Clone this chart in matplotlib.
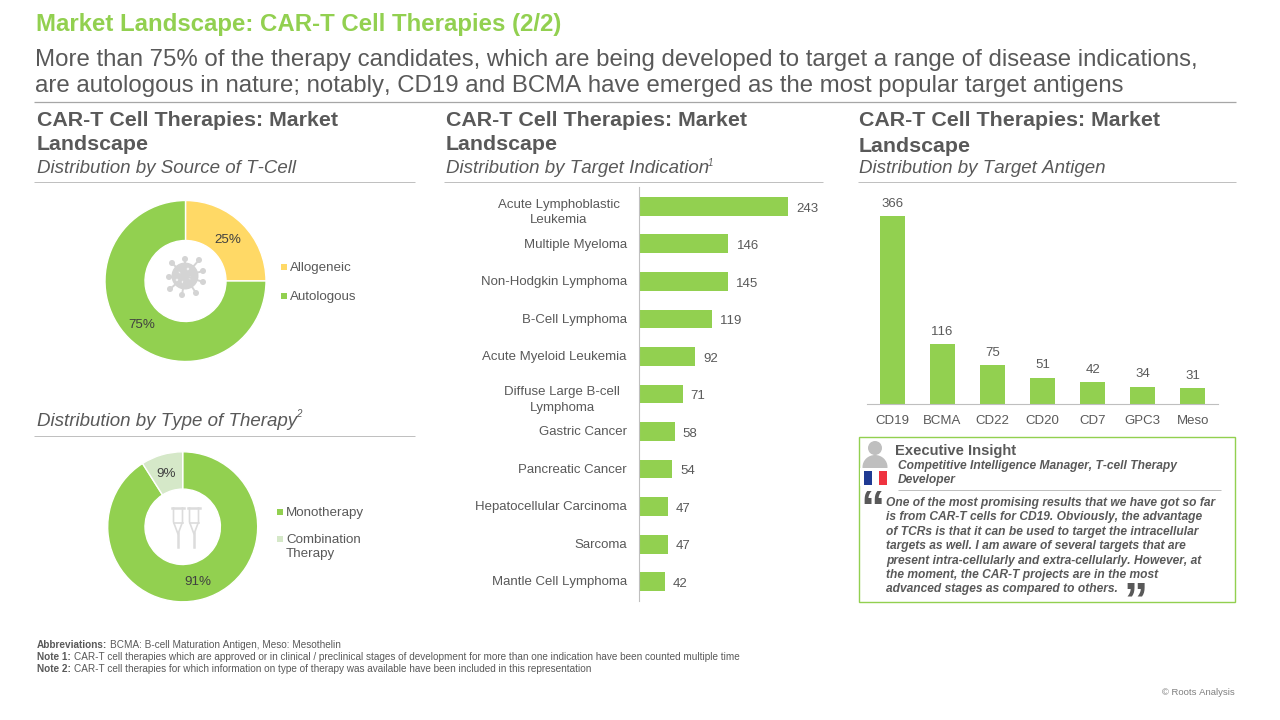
import matplotlib
matplotlib.use('Agg')
import matplotlib.pyplot as plt
from matplotlib.patches import Circle, Rectangle, Ellipse

plt.rcParams['font.family'] = ['Liberation Sans', 'DejaVu Sans']
plt.rcParams['text.kerning_factor'] = 6

GREEN = '#92D050'
YELLOW = '#FFD966'
PALE = '#D5E8C8'
TXT = '#595959'
RULE = '#BFBFBF'

# data
source_labels = ['Allogeneic', 'Autologous']
source_vals = [25, 75]
therapy_labels = ['Monotherapy', 'Combination\nTherapy']
therapy_vals = [91, 9]
indications = ['Acute Lymphoblastic\nLeukemia', 'Multiple Myeloma', 'Non-Hodgkin Lymphoma',
               'B-Cell Lymphoma', 'Acute Myeloid Leukemia', 'Diffuse Large B-cell\nLymphoma',
               'Gastric Cancer', 'Pancreatic Cancer', 'Hepatocellular Carcinoma',
               'Sarcoma', 'Mantle Cell Lymphoma']
indication_vals = [243, 146, 145, 119, 92, 71, 58, 54, 47, 47, 42]
antigens = ['CD19', 'BCMA', 'CD22', 'CD20', 'CD7', 'GPC3', 'Meso']
antigen_vals = [366, 116, 75, 51, 42, 34, 31]

W, H = 1280, 720
fig = plt.figure(figsize=(12.8, 7.2), dpi=100)

# full page axes in pixel coords, y pointing down, above the charts
page = fig.add_axes([0, 0, 1, 1], zorder=10)
page.set_xlim(0, W)
page.set_ylim(H, 0)
page.axis('off')


def box(x0, y0, x1, y1):
    return [x0 / W, 1 - y1 / H, (x1 - x0) / W, (y1 - y0) / H]


def t(x, y, s, size=10, color=TXT, **kw):
    kw.setdefault('va', 'center')
    return page.text(x, y, s, fontsize=size, color=color, **kw)


def rule(x0, x1, y, color=RULE, lw=0.7):
    page.plot([x0, x1], [y, y], color=color, lw=lw, solid_capstyle='butt')


# headline
t(36, 25, 'Market Landscape: CAR-T Cell Therapies (2/2)', 17.25, GREEN, fontweight='bold')
t(35, 60, 'More than 75% of the therapy candidates, which are being developed to target a range of disease indications,', 17.3, TXT)
t(35, 86, 'are autologous in nature; notably, CD19 and BCMA have emerged as the most popular target antigens', 17.3, TXT)
rule(34, 1236, 101.5, '#A6A6A6', 0.9)

# column headers
for x, x0, x1, dy, sub in [(37, 34, 415, 0, 'Distribution by Source of T-Cell'),
                           (446, 444, 823, 0, 'Distribution by Target Indication'),
                           (859, 858, 1236, 1, 'Distribution by Target Antigen')]:
    t(x, 120 + dy, 'CAR-T Cell Therapies: Market', 15.4, TXT, fontweight='bold')
    t(x, 145 + dy, 'Landscape', 15.4, TXT, fontweight='bold')
    t(x, 168.5, sub, 13.5, TXT, style='italic')
    rule(x0, x1, 181.5)
t(708, 163, '1', 7, TXT, style='italic')

t(37, 421, 'Distribution by Type of Therapy', 13.5, TXT, style='italic')
t(296, 414, '2', 7, TXT, style='italic')
rule(34, 415, 435.5)


# donuts
def donut(cx, cy, r, inner, vals, colors, label_pos):
    ax = fig.add_axes(box(cx - r - 2, cy - r - 2, cx + r + 2, cy + r + 2))
    ax.pie(vals, colors=colors, startangle=90, counterclock=False, radius=r / (r + 2),
           wedgeprops=dict(width=(r - inner) / (r + 2), edgecolor='white', linewidth=1))
    ax.set_xlim(-1, 1)
    ax.set_ylim(-1, 1)
    for (x, y), v in zip(label_pos, vals):
        t(x, y, '%d%%' % v, 9.6, '#404040', ha='center')


donut(185.5, 281, 80.5, 40.5, source_vals, [YELLOW, GREEN], [(228, 240), (142, 325)])
donut(182.7, 526.8, 75, 37.7, therapy_vals, [GREEN, PALE], [(198, 582), (166, 474)])

# legends
for y, lab, c in zip([267, 296], source_labels, [YELLOW, GREEN]):
    page.add_patch(Rectangle((281, y - 3), 5.5, 5.5, color=c, lw=0))
    t(290, y + 1, lab, 9.6, TXT)
page.add_patch(Rectangle((277, 509), 5.5, 5.5, color=GREEN, lw=0))
t(286, 513, therapy_labels[0], 9.6, TXT)
page.add_patch(Rectangle((277, 536), 5.5, 5.5, color=PALE, lw=0))
t(286, 547, therapy_labels[1], 9.6, TXT, linespacing=1.2)

# virus icon
GREY = '#D4D4D4'
page.add_patch(Circle((185, 276), 13.5, color=GREY, lw=0))
for dx, dy in [(-13, -13), (0, -17), (14, -16), (18, -5), (-16, 1), (18, 6), (11, 17), (-3, 19), (-15, 13)]:
    page.plot([185, 185 + dx], [276, 276 + dy], color=GREY, lw=1.4)
    page.add_patch(Circle((185 + dx, 276 + dy), 3, color=GREY, lw=0))
for dx, dy in [(-5, -4), (3, -7), (5, 2), (-2, 6), (-8, 4)]:
    page.add_patch(Circle((185 + dx, 276 + dy), 1.3, color='#F2F2F2', lw=0))

# crutch icon
CR = '#DCDCDC'
for x in [178, 194]:
    page.plot([x - 6, x + 6], [508, 508], color=CR, lw=1.8)
    page.plot([x - 4.5, x - 4.5, x, x + 4.5, x + 4.5], [508, 522, 534, 522, 508], color=CR, lw=1.2)
    page.plot([x - 4.5, x + 4.5], [523, 523], color=CR, lw=1.2)
    page.plot([x, x], [533, 547], color=CR, lw=1.8)

# indication bars
ax = fig.add_axes(box(639, 187.5, 820, 600.5))
ypos = list(range(len(indications)))
ax.barh(ypos, indication_vals, height=0.5, color=GREEN)
ax.set_ylim(len(indications) - 0.5, -0.5)
ax.set_xlim(0, 181 / 0.613)
for s in ['top', 'right', 'bottom']:
    ax.spines[s].set_visible(False)
ax.spines['left'].set_color(RULE)
ax.spines['left'].set_linewidth(0.8)
ax.xaxis.set_visible(False)
ax.set_yticks([])
# labels sit a little off the tick rows, two-line ones more so
for y, name, v in zip(ypos, indications, indication_vals):
    two = '\n' in name
    ax.text(-0.105 if two else -0.067, y + (0.165 if two else 0.02), name, transform=ax.get_yaxis_transform(),
            fontsize=9.55, color=TXT, ha='right', va='center', multialignment='center', linespacing=1.42, clip_on=False)
    ax.text(v + 13, y + 0.06, str(v), fontsize=9.55, color=TXT, va='center')

# antigen columns
ax2 = fig.add_axes(box(867, 189.5, 1218, 404))
xpos = list(range(len(antigens)))
ax2.bar(xpos, antigen_vals, width=0.5, color=GREEN)
ax2.set_xlim(-0.5, 6.5)
ax2.set_ylim(0, 214.5 / 0.514)
for s in ['top', 'right', 'left']:
    ax2.spines[s].set_visible(False)
ax2.spines['bottom'].set_color(RULE)
ax2.spines['bottom'].set_linewidth(0.8)
ax2.yaxis.set_visible(False)
ax2.set_xticks(xpos)
ax2.set_xticklabels(antigens, fontsize=9.55, color=TXT)
ax2.tick_params(axis='x', length=0, pad=8)
for x, v in zip(xpos, antigen_vals):
    ax2.text(x, v + 24, str(v), fontsize=9.55, color=TXT, ha='center', va='center')

# insight box
page.add_patch(Rectangle((858.5, 436.5), 376, 165, fill=False, edgecolor=GREEN, lw=1.0))
page.add_patch(Circle((875, 448), 7, color='#BFBFBF', lw=0))
page.add_patch(Ellipse((875, 467), 25, 24, color='#BFBFBF', lw=0))
page.add_patch(Rectangle((860, 467.5), 30, 18, color='white', lw=0))
page.add_patch(Rectangle((864, 471), 8, 14, color='#1F3A93', lw=0))
page.add_patch(Rectangle((879, 471), 8, 14, color='#EF3340', lw=0))
t(895, 451, 'Executive Insight', 10.6, TXT, fontweight='bold')
t(898, 466.5, 'Competitive Intelligence Manager, T-cell Therapy', 8.65, TXT, style='italic', fontweight='bold')
t(898, 480.5, 'Developer', 8.65, TXT, style='italic', fontweight='bold')
rule(898, 1221, 489.5)
t(860.4, 511, '\u201c', 35, TXT, fontweight='bold')
quote_lines = ['One of the most promising results that we have got so far',
               'is from CAR-T cells for CD19. Obviously, the advantage',
               'of TCRs is that it can be used to target the intracellular',
               'targets as well. I am aware of several targets that are',
               'present intra-cellularly and extra-cellularly. However, at',
               'the moment, the CAR-T projects are in the most',
               'advanced stages as compared to others.']
for i, line in enumerate(quote_lines):
    t(886, 503 + i * 14.4, line, 8.62, TXT, style='italic', fontweight='bold')
t(1123.5, 603, '\u201d', 35, TXT, fontweight='bold')

# footnotes
notes = [('Abbreviations:', 'BCMA: B-cell Maturation Antigen, Meso: Mesothelin', 645),
         ('Note 1:', 'CAR-T cell therapies which are approved or in clinical / preclinical stages of development for more than one indication have been counted multiple time', 657),
         ('Note 2:', 'CAR-T cell therapies for which information on type of therapy was available have been included in this representation', 669)]
for head, body, y in notes:
    a = t(37, y, head, 7.18, TXT, fontweight='bold')
    fig.canvas.draw()
    bb = a.get_window_extent()
    t(bb.x1 + 3, y, body, 7.18, TXT)
t(1235, 692.5, '\u00a9 Roots Analysis', 6.8, '#7F7F7F', ha='right')

fig.savefig('out.png', dpi=100)
